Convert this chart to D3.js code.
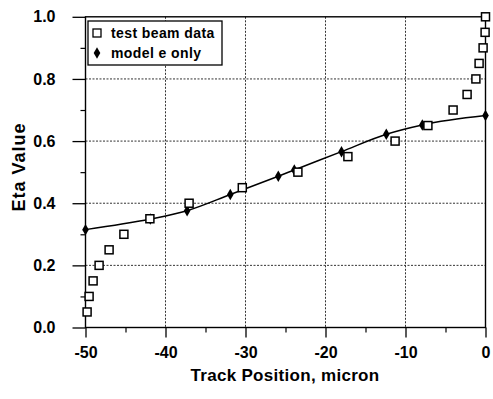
<!DOCTYPE html>
<html>
<head>
<meta charset="utf-8">
<script src="https://cdn.jsdelivr.net/npm/d3@7"></script>
<style>
  html, body { margin: 0; padding: 0; background: #fff; }
  svg { display: block; }
  text { font-family: "Liberation Sans", Arial, Helvetica, sans-serif; font-weight: bold; fill: #000; }
</style>
</head>
<body>
<svg id="chart" width="493" height="399"></svg>
<script>
// Test beam eta measurements vs. track position
const beamPos = [-49.8, -49.55, -49.05, -48.3, -47.05, -45.2, -41.95, -37.05, -30.4, -23.45,
                 -17.2, -11.3, -7.2, -4.05, -2.3, -1.2, -0.8, -0.3, -0.05, 0];
const beamEta = [0.05, 0.10, 0.15, 0.20, 0.25, 0.30, 0.35, 0.40, 0.45, 0.50,
                 0.55, 0.60, 0.65, 0.70, 0.75, 0.80, 0.85, 0.90, 0.95, 1.00];

// Model (e only) prediction
const modelPos = [-50, -41.9, -37.3, -31.9, -25.9, -23.9, -18, -12.4, -7.9, 0];
const modelEta = [0.315, 0.349, 0.376, 0.428, 0.487, 0.507, 0.566, 0.622, 0.652, 0.682];

// Axis ticks
const xTicks = [-50, -40, -30, -20, -10, 0];
const xMinor = [-45, -35, -25, -15, -5];
const yTicks = [0, 0.2, 0.4, 0.6, 0.8, 1.0];
const yMinor = [0.1, 0.3, 0.5, 0.7, 0.9];
const legendLabels = ["test beam data", "model e only"];

const svg = d3.select("#chart");
const plotL = 85.5, plotR = 485.5, plotT = 16.8, plotB = 327.5;

const x = d3.scaleLinear().domain([-50, 0]).range([plotL, plotR]);
const y = d3.scaleLinear().domain([0, 1]).range([plotB, plotT]);

// Grid lines (dotted)
const grid = svg.append("g")
  .attr("stroke", "#333").attr("stroke-width", 1).attr("stroke-dasharray", "2,1.5");
grid.selectAll("line.gx").data(xTicks.slice(1, -1)).join("line")
  .attr("x1", d => x(d)).attr("x2", d => x(d)).attr("y1", plotT).attr("y2", plotB);
grid.selectAll("line.gy").data(yTicks.slice(1, -1)).join("line")
  .attr("x1", plotL).attr("x2", plotR).attr("y1", d => y(d)).attr("y2", d => y(d));

// Axes (plain hyphen for negative labels)
const xAxis = d3.axisBottom(x).tickValues(xTicks).tickSize(10).tickPadding(9)
  .tickFormat(d => String(d));
const gx = svg.append("g").attr("transform", `translate(0,${plotB})`).call(xAxis);
gx.select(".domain").remove();
gx.selectAll("text").style("font-size", "16px").attr("font-family", null);
gx.selectAll("line").attr("stroke-width", 1.3);

const xAxisMinor = d3.axisBottom(x).tickValues(xMinor).tickSize(5).tickFormat("");
const gxm = svg.append("g").attr("transform", `translate(0,${plotB})`).call(xAxisMinor);
gxm.select(".domain").remove();
gxm.selectAll("line").attr("stroke-width", 1.2);

const yAxis = d3.axisLeft(y).tickValues(yTicks).tickSize(13).tickPadding(17)
  .tickFormat(d3.format(".1f"));
const gy = svg.append("g").attr("transform", `translate(${plotL},0)`).call(yAxis);
gy.select(".domain").remove();
gy.selectAll("text").style("font-size", "16px").attr("font-family", null);
gy.selectAll("line").attr("stroke-width", 1.3);

const yAxisMinor = d3.axisLeft(y).tickValues(yMinor).tickSize(5).tickFormat("");
const gym = svg.append("g").attr("transform", `translate(${plotL},0)`).call(yAxisMinor);
gym.select(".domain").remove();
gym.selectAll("line").attr("stroke-width", 1.2);

// Frame
svg.append("rect")
  .attr("x", plotL).attr("y", plotT).attr("width", plotR - plotL).attr("height", plotB - plotT)
  .attr("fill", "none").attr("stroke", "#000").attr("stroke-width", 1.4);

// Model curve
const line = d3.line().x(d => x(d[0])).y(d => y(d[1])).curve(d3.curveMonotoneX);
const modelPts = modelPos.map((p, i) => [p, modelEta[i]]);
svg.append("path").datum(modelPts)
  .attr("d", line).attr("fill", "none").attr("stroke", "#000").attr("stroke-width", 1.5);

// Model points (filled diamonds)
const diamond = d3.symbol().type(d3.symbolDiamond).size(38);
svg.append("g").selectAll("path").data(modelPts).join("path")
  .attr("d", diamond)
  .attr("transform", d => `translate(${x(d[0])},${y(d[1])})`)
  .attr("fill", "#000");

// Test beam points (open squares)
const sq = 8;
svg.append("g").selectAll("rect").data(beamPos.map((p, i) => [p, beamEta[i]])).join("rect")
  .attr("x", d => x(d[0]) - sq / 2).attr("y", d => y(d[1]) - sq / 2)
  .attr("width", sq).attr("height", sq)
  .attr("fill", "#fff").attr("stroke", "#000").attr("stroke-width", 1.5);

// Legend
const lg = svg.append("g");
lg.append("rect").attr("x", 88).attr("y", 21).attr("width", 134).attr("height", 44)
  .attr("fill", "#fff").attr("stroke", "#000").attr("stroke-width", 1.3);
lg.append("rect").attr("x", 93).attr("y", 29).attr("width", 8).attr("height", 8)
  .attr("fill", "#fff").attr("stroke", "#000").attr("stroke-width", 1.3);
lg.append("path").attr("d", diamond).attr("transform", "translate(97,53)").attr("fill", "#000");
lg.selectAll("text").data(legendLabels).join("text")
  .attr("x", 111).attr("y", (d, i) => 38 + i * 20)
  .style("font-size", "14px").style("letter-spacing", "0.4px")
  .text(d => d);

// Axis titles
svg.append("text")
  .attr("x", 285).attr("y", 381).attr("text-anchor", "middle")
  .style("font-size", "17px").style("letter-spacing", "0.3px")
  .text("Track Position, micron");
svg.append("text")
  .attr("transform", "translate(25,167) rotate(-90)").attr("text-anchor", "middle")
  .style("font-size", "18px").style("letter-spacing", "1px")
  .text("Eta Value");
</script>
</body>
</html>
